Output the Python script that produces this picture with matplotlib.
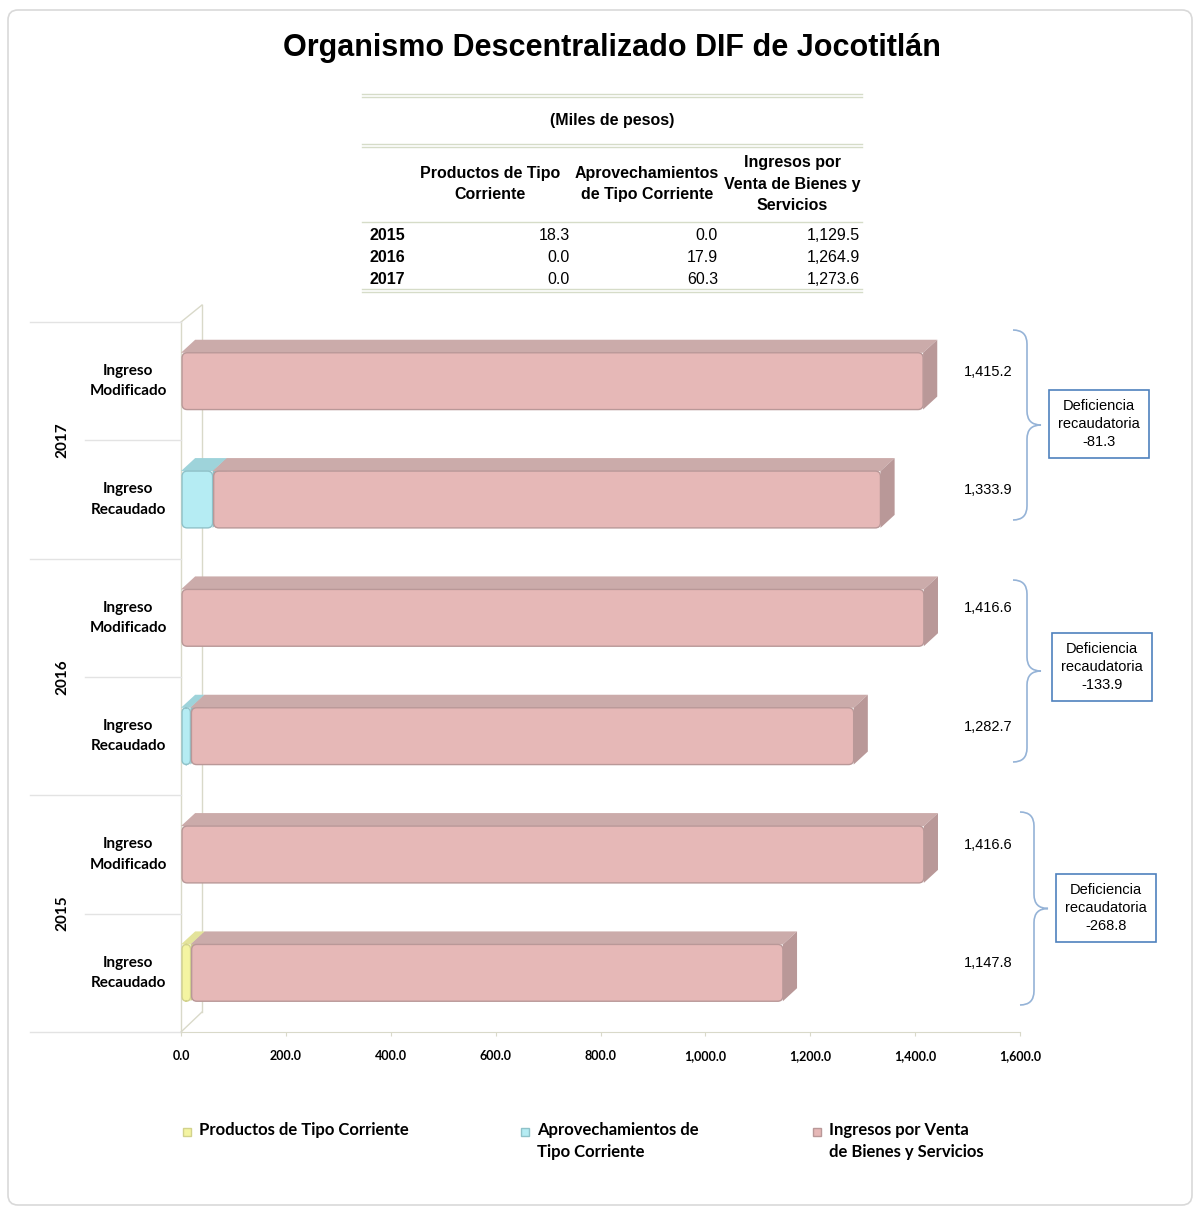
import matplotlib
matplotlib.use("Agg")
import matplotlib.pyplot as plt
from matplotlib.patches import FancyBboxPatch, Rectangle, PathPatch
from matplotlib.path import Path

# ---- data ----
years = ["2015", "2016", "2017"]
rows = ["Ingreso\nRecaudado", "Ingreso\nModificado"]
series = ["Productos de Tipo Corriente", "Aprovechamientos de\nTipo Corriente",
          "Ingresos por Venta\nde Bienes y Servicios"]
table_headers = ["Productos de Tipo\nCorriente", "Aprovechamientos\nde Tipo Corriente",
                 "Ingresos por\nVenta de Bienes y\nServicios"]
productos = [18.3, 0.0, 0.0]
aprovechamientos = [0.0, 17.9, 60.3]
ventas = [1129.5, 1264.9, 1273.6]
recaudado_total = [1147.8, 1282.7, 1333.9]
modificado = [1416.6, 1416.6, 1415.2]
deficiencia = [-268.8, -133.9, -81.3]

colors = ["#F4F4A2", "#B5ECF3", "#E6B8B7"]
top_colors = ["#E3E39A", "#9ED3DA", "#CBABAA"]
side_colors = ["#D2D28C", "#8FC2C9", "#B99898"]

fig = plt.figure(figsize=(12, 12.13), dpi=100)
W, H = 1200, 1213

# overlay axes in pixel coordinates
ov = fig.add_axes([0, 0, 1, 1])
ov.set_xlim(0, W)
ov.set_ylim(H, 0)
ov.axis("off")
ov.add_patch(FancyBboxPatch((8, 10), 1184, 1195, boxstyle="round,pad=0,rounding_size=10",
                            fc="white", ec="#D9D9D9", lw=1.2))

ov.text(612, 48, "Organismo Descentralizado DIF de Jocotitlán", ha="center", va="center",
        fontsize=22, fontweight="bold", family="Liberation Sans")

# ---- table ----
tfont = dict(family="Liberation Sans", fontsize=11.5)
for y in (95, 145, 290):
    ov.plot([362, 862], [y - 1.5, y - 1.5], color="#D6DCC8", lw=1)
    ov.plot([362, 862], [y + 1.5, y + 1.5], color="#D6DCC8", lw=1)
ov.plot([362, 862], [222, 222], color="#D6DCC8", lw=1)
ov.text(612, 121, "(Miles de pesos)", ha="center", va="center", fontweight="bold", **tfont)
hx = [490, 647, 792]
for x, h in zip(hx, table_headers):
    ov.text(x, 184, h, ha="center", va="center", fontweight="bold", linespacing=1.55, **tfont)
vx = [570, 718, 860]
for i, yr in enumerate(years):
    y = 236 + 22 * i
    ov.text(369, y, yr, ha="left", va="center", fontweight="bold", **tfont)
    for x, v in zip(vx, (productos[i], aprovechamientos[i], ventas[i])):
        ov.text(x, y, f"{v:,.1f}", ha="right", va="center", **tfont)

# ---- main chart ----
ax = fig.add_axes([181 / W, 1 - 1032 / H, 839 / W, 710 / H])
ax.set_xlim(0, 1600)
ax.set_ylim(-0.5, 5.5)
ax.patch.set_alpha(0)
for s in ("top", "right", "left"):
    ax.spines[s].set_visible(False)
ax.spines["bottom"].set_color("#D9D9C9")
ax.set_yticks([])
ax.set_xticks(range(0, 1601, 200))
ax.set_xticklabels([f"{t:,.1f}" for t in range(0, 1601, 200)], fontsize=9,
                   fontweight="bold", family="Lato")
ax.tick_params(axis="x", length=3, color="#D9D9C9", pad=10)

dx, dy, hh = 27, 0.11, 0.24
aspect = (6 / 710) / (1600 / 839)


def bar3d(y, x0, w, k, z):
    if w <= 0:
        return
    x1 = x0 + w
    ax.fill([x0, x1, x1 + dx, x0 + dx], [y + hh, y + hh, y + hh + dy, y + hh + dy],
            color=top_colors[k], zorder=z, lw=0)
    ax.fill([x1, x1 + dx, x1 + dx, x1], [y - hh, y - hh + dy, y + hh + dy, y + hh],
            color=side_colors[k], zorder=z, lw=0)
    r = min(10, w / 2)
    ax.add_patch(FancyBboxPatch((x0 + 2, y - hh), w - 2, 2 * hh,
                                boxstyle=f"round,pad=0,rounding_size={r}",
                                mutation_aspect=aspect, fc=colors[k],
                                ec=side_colors[k], lw=1, zorder=z + 0.5))


for i, yr in enumerate(years):
    yr_rec = 2 * i
    yr_mod = 2 * i + 1
    left = 0
    z = 3
    for k, v in enumerate((productos[i], aprovechamientos[i], ventas[i])):
        bar3d(yr_rec, left, v, k, z)
        left += v
        z += 1
    bar3d(yr_mod, 0, modificado[i], 2, 3)
    ax.text(1540, yr_mod + 0.08, f"{modificado[i]:,.1f}", ha="center", va="center",
            fontsize=10.5, family="Liberation Sans")
    ax.text(1540, yr_rec + 0.08, f"{recaudado_total[i]:,.1f}", ha="center", va="center",
            fontsize=10.5, family="Liberation Sans")

# 3D wall lines
wall = "#D9D9C9"
ov.plot([181, 181], [322, 1032], color=wall, lw=1)
ov.plot([202, 202], [305, 1012], color=wall, lw=1)
ov.plot([181, 202], [322, 305], color=wall, lw=1)
ov.plot([181, 202], [1032, 1012], color=wall, lw=1)

# category labels and separators
row_h = 710 / 6
for j in range(7):
    y = 322 + j * row_h
    x0 = 30 if j % 2 == 0 else 85
    ov.plot([x0, 181], [y, y], color="#E3E3E3", lw=1)
for i, yr in enumerate(years):
    g_top = 1032 - (2 * i + 2) * row_h
    ov.text(62, g_top + row_h, yr, rotation=90, ha="center", va="center",
            fontsize=11, fontweight="bold", family="Lato")
    for r, lab in enumerate(rows):
        yc = 1032 - (2 * i + r + 0.5) * row_h
        ov.text(128, yc, lab, ha="center", va="center", fontsize=11, fontweight="bold",
                family="Lato", linespacing=1.55)

# braces and deficiency boxes
brace_specs = [(1020, 812, 1005), (1013, 580, 762), (1013, 330, 520)]
box_centers = [(1106, 908), (1102, 667), (1099, 424)]
bc = "#95B3D7"
for (bx, top, bot), (cx, cy), d in zip(brace_specs, box_centers, deficiencia):
    mid = (top + bot) / 2
    w = 28
    verts = [(bx, top), (bx + w / 2, top), (bx + w / 2, top + 14),
             (bx + w / 2, mid - 14), (bx + w / 2, mid), (bx + w, mid),
             (bx + w / 2, mid), (bx + w / 2, mid + 14),
             (bx + w / 2, bot - 14), (bx + w / 2, bot), (bx, bot)]
    codes = [Path.MOVETO, Path.CURVE3, Path.CURVE3, Path.LINETO, Path.CURVE3, Path.CURVE3,
             Path.CURVE3, Path.CURVE3, Path.LINETO, Path.CURVE3, Path.CURVE3]
    ov.add_patch(PathPatch(Path(verts, codes), fc="none", ec=bc, lw=1.2))
    ov.add_patch(Rectangle((cx - 50, cy - 34), 100, 68, fc="white", ec="#4F81BD", lw=1.2))
    ov.text(cx, cy, f"Deficiencia\nrecaudatoria\n{d:,.1f}", ha="center", va="center",
            fontsize=10.5, family="Liberation Sans", linespacing=1.4)

# legend
leg_x = [187, 525, 817]
for x, lab, c, tc in zip(leg_x, series, colors, side_colors):
    ov.add_patch(Rectangle((x - 4, 1128), 8, 8, fc=c, ec=tc, lw=1))
    ov.text(x + 12, 1122, lab, ha="left", va="top",
            fontsize=12, fontweight="bold", family="Lato", linespacing=1.5)

fig.savefig("out.png", dpi=100, facecolor="white")
